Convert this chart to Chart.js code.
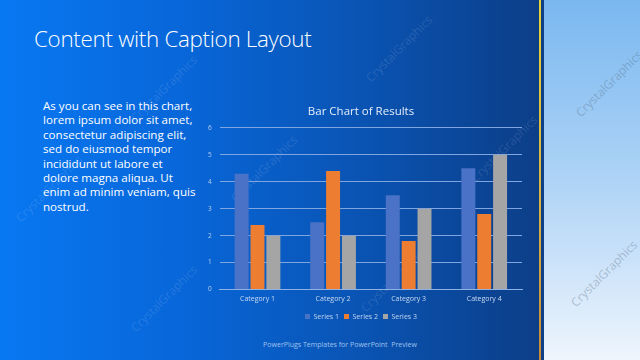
<!DOCTYPE html>
<html>
<head>
<meta charset="utf-8">
<script src="https://cdn.jsdelivr.net/npm/chart.js@4.4.1/dist/chart.umd.min.js"></script>
<style>
  html, body { margin:0; padding:0; width:640px; height:360px; overflow:hidden; }
  body { position:relative; font-family:"Open Sans", "Noto Sans", sans-serif; }
  #left { position:absolute; left:0; top:0; width:537px; height:360px;
    background: linear-gradient(to right, #0878f2 0%, #0866d8 35%, #0a52b0 70%, #0b4392 92%, #0c3f88 100%); }
  #strip1 { position:absolute; left:537px; top:0; width:2px; height:360px; background:#0e3f85; }
  #yline { position:absolute; left:539px; top:0; width:2px; height:360px;
    background: linear-gradient(to bottom, #e8d23a 0%, #d9b045 60%, #c98a3a 100%); }
  #strip2 { position:absolute; left:541px; top:0; width:3px; height:360px; background:#0e4088; }
  #right { position:absolute; left:544px; top:0; width:96px; height:360px;
    background: linear-gradient(to bottom, #7ab8f0 0%, #aed3f6 50%, #eef5fd 100%); }
  #title { position:absolute; left:34px; top:23px; color:#ffffff; font-family:"Open Sans", sans-serif;
    font-weight:300; font-size:22.4px; letter-spacing:-0.3px; white-space:nowrap; }
  #body { position:absolute; left:43px; top:99px; width:156px; color:#ffffff; font-family:"Open Sans", sans-serif;
    font-size:11.6px; line-height:14.4px; }
  #footer { position:absolute; left:0; width:680px; top:340px; text-align:center; color:#9fc2ef;
    font-size:7px; font-family:"Open Sans", sans-serif; }
  #chartwrap { position:absolute; left:196px; top:97px; width:340px; height:242px; }
  .wm { position:absolute; font-size:12px; white-space:nowrap; transform:rotate(-45deg); transform-origin:center; font-family:"Open Sans", sans-serif; }
  .wmb { color:rgba(255,255,255,0.13); }
  .wml { color:rgba(80,100,120,0.35); }
</style>
</head>
<body>
<div id="left"></div>
<div id="strip1"></div>
<div id="yline"></div>
<div id="strip2"></div>
<div id="right"></div>

<div class="wm wmb" style="left:120px;top:80px;">CrystalGraphics</div>
<div class="wm wmb" style="left:355px;top:40px;">CrystalGraphics</div>
<div class="wm wmb" style="left:220px;top:160px;">CrystalGraphics</div>
<div class="wm wmb" style="left:460px;top:140px;">CrystalGraphics</div>
<div class="wm wmb" style="left:5px;top:180px;">CrystalGraphics</div>
<div class="wm wmb" style="left:120px;top:290px;">CrystalGraphics</div>
<div class="wm wmb" style="left:350px;top:270px;">CrystalGraphics</div>
<div class="wm wml" style="left:565px;top:75px;">CrystalGraphics</div>
<div class="wm wml" style="left:560px;top:265px;">CrystalGraphics</div>

<div id="title">Content with Caption Layout</div>
<div id="body">As you can see in this chart, lorem ipsum dolor sit amet, consectetur adipiscing elit, sed do eiusmod tempor incididunt ut labore et dolore magna aliqua. Ut enim ad minim veniam, quis nostrud.</div>
<div id="footer">PowerPlugs Templates for PowerPoint&nbsp; Preview</div>

<div id="chartwrap"><canvas id="c" width="340" height="242"></canvas></div>

<script>
const categories = ["Category 1", "Category 2", "Category 3", "Category 4"];
const series1 = [4.3, 2.5, 3.5, 4.5];
const series2 = [2.4, 4.4, 1.8, 2.8];
const series3 = [2, 2, 3, 5];
const seriesNames = ["Series 1", "Series 2", "Series 3"];
const yTicks = [0, 1, 2, 3, 4, 5, 6];

const ctx = document.getElementById('c');
new Chart(ctx, {
  type: 'bar',
  data: {
    labels: categories,
    datasets: [
      { label: seriesNames[0], data: series1, backgroundColor: '#4a72c6' },
      { label: seriesNames[1], data: series2, backgroundColor: '#ed7d31' },
      { label: seriesNames[2], data: series3, backgroundColor: '#a5a5a5' }
    ]
  },
  options: {
    responsive: false,
    animation: false,
    devicePixelRatio: 1,
    layout: { padding: { left: 4, right: 14, top: 0, bottom: 9 } },
    datasets: { bar: { categoryPercentage: 0.63, barPercentage: 0.88 } },
    plugins: {
      title: { display: true, text: 'Bar Chart of Results', color: '#e4edf9',
        font: { family: '"Open Sans", sans-serif', size: 11.5, weight: 'normal' }, padding: { top: 8, bottom: 9 } },
      legend: { position: 'bottom',
        labels: { color: '#c3d6f0', font: { family: '"Open Sans", sans-serif', size: 7 },
          boxWidth: 5, boxHeight: 5, padding: 5 } },
      tooltip: { enabled: false }
    },
    scales: {
      x: {
        grid: { display: false, drawTicks: false },
        border: { color: '#8fb2e6', width: 1 },
        ticks: { color: '#c9daf2', font: { family: '"Open Sans", sans-serif', size: 7 }, padding: 5 }
      },
      y: {
        min: yTicks[0], max: yTicks[yTicks.length - 1],
        afterBuildTicks: (axis) => { axis.ticks = yTicks.map(v => ({ value: v })); },
        grid: { color: '#7fa6e0', lineWidth: 1, drawTicks: false },
        border: { display: false },
        ticks: { color: '#b9cdeb', font: { family: '"Open Sans", sans-serif', size: 6.5 }, padding: 8 }
      }
    }
  }
});
</script>
</body>
</html>
